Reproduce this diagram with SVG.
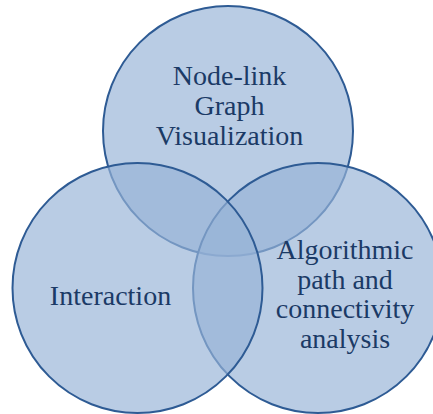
<svg xmlns="http://www.w3.org/2000/svg" width="433" height="414" viewBox="0 0 433 414">
  <style>
    .set { fill: #97B3D7; fill-opacity: 0.67; stroke: #2E5B94; stroke-width: 2; }
    .label { font-family: "Liberation Serif", "Times New Roman", serif; font-size: 28px; fill: #1B3A66; text-anchor: middle; }
  </style>
  <rect width="433" height="414" fill="#FFFFFF"/>
  <!-- three overlapping sets; later circles sit above earlier ones -->
  <g id="node-visualization">
    <circle class="set" cx="228" cy="131" r="125"/>
    <text class="label" x="229.5" y="85">Node-link</text>
    <text class="label" x="229.5" y="115">Graph</text>
    <text class="label" x="229.5" y="145">Visualization</text>
  </g>
  <g id="node-algorithmic">
    <circle class="set" cx="318" cy="288" r="125"/>
  </g>
  <g id="node-interaction">
    <circle class="set" cx="137.5" cy="288" r="125"/>
    <text class="label" x="110.5" y="305">Interaction</text>
  </g>
  <g id="labels-algorithmic">
    <text class="label" x="345" y="259">Algorithmic</text>
    <text class="label" x="345" y="288.5">path and</text>
    <text class="label" x="345" y="318">connectivity</text>
    <text class="label" x="345" y="347.5">analysis</text>
  </g>
  <g id="connectors"></g>
</svg>
